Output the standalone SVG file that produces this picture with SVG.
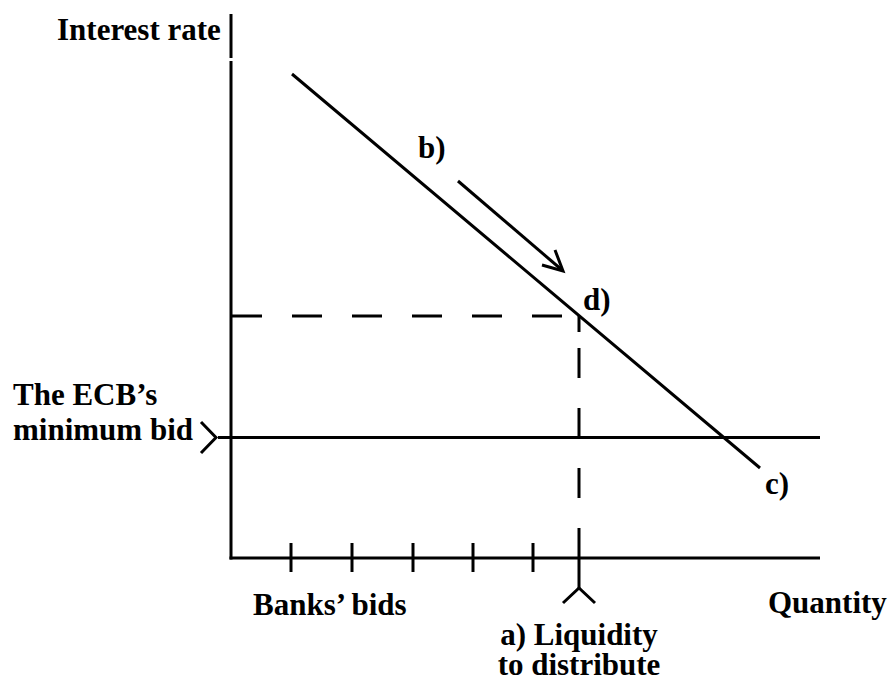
<svg xmlns="http://www.w3.org/2000/svg" width="890" height="682" viewBox="0 0 890 682">
<style>
.ln{stroke:#000;stroke-width:3;fill:none}
.dash{stroke:#000;stroke-width:3;fill:none;stroke-dasharray:30 30}
.t{font-family:'Liberation Serif','Times New Roman','DejaVu Serif',serif;font-weight:700;font-size:31px;fill:#000}
</style>
<rect width="890" height="682" fill="#fff"/>
<g id="axes">
<line class="ln" x1="231" y1="14" x2="231" y2="58"/>
<line class="ln" x1="231" y1="61" x2="231" y2="559.5"/>
<line class="ln" x1="229.5" y1="558" x2="820" y2="558"/>
</g>
<g id="ticks">
<line class="ln" x1="291" y1="543" x2="291" y2="572"/>
<line class="ln" x1="352" y1="543" x2="352" y2="572"/>
<line class="ln" x1="413" y1="543" x2="413" y2="572"/>
<line class="ln" x1="473" y1="543" x2="473" y2="572"/>
<line class="ln" x1="533" y1="543" x2="533" y2="572"/>
</g>
<g id="minimum-bid-line">
<line class="ln" x1="218" y1="437.5" x2="820" y2="437.5"/>
<polyline class="ln" points="201,422 216,437.5 201,453"/>
</g>
<g id="demand-curve">
<line class="ln" x1="292" y1="74" x2="760" y2="468"/>
</g>
<g id="connectors">
<line class="dash" x1="232" y1="316" x2="579" y2="316"/>
<line class="ln" x1="579" y1="316" x2="579" y2="332"/>
<line class="dash" x1="579" y1="348" x2="579" y2="558"/>
<line class="ln" x1="579" y1="558" x2="579" y2="588"/>
<polyline class="ln" points="563,603 579,588 595,603"/>
<line class="ln" x1="458" y1="181" x2="562" y2="270"/>
<polyline class="ln" points="555,250 563,271 542,265"/>
</g>
<g id="labels">
<text class="t" x="57" y="40">Interest rate</text>
<text class="t" x="13" y="405">The ECB’s</text>
<text class="t" x="13" y="440">minimum bid</text>
<text class="t" x="418" y="158">b)</text>
<text class="t" x="583" y="310">d)</text>
<text class="t" x="765" y="494">c)</text>
<text class="t" x="253" y="615">Banks’ bids</text>
<text class="t" x="768" y="613">Quantity</text>
<text class="t" x="579" y="645" text-anchor="middle">a) Liquidity</text>
<text class="t" x="579" y="675" text-anchor="middle">to distribute</text>
</g>
</svg>
